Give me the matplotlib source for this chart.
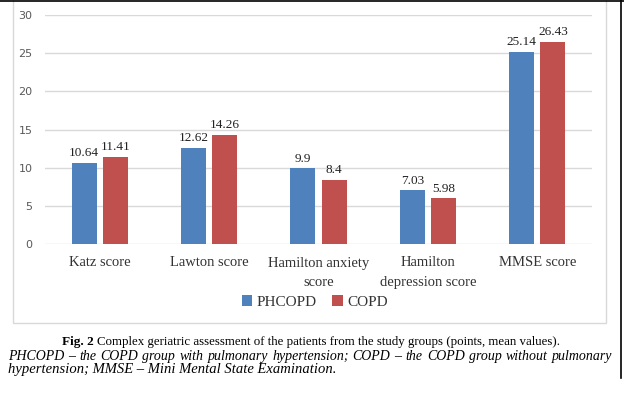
import numpy as np
import matplotlib.pyplot as plt
from matplotlib.patches import Rectangle
from matplotlib.lines import Line2D

categories = ['Katz score', 'Lawton score', 'Hamilton anxiety\nscore',
              'Hamilton\ndepression score', 'MMSE score']
phcopd = [10.64, 12.62, 9.9, 7.03, 25.14]
copd = [11.41, 14.26, 8.4, 5.98, 26.43]
series_names = ['PHCOPD', 'COPD']
yticks = [0, 5, 10, 15, 20, 25, 30]

BLUE = '#4F81BD'
RED = '#C0504D'
GRID = '#D9D9D9'
SERIF = 'Liberation Serif'

W, H = 624, 398
fig = plt.figure(figsize=(W / 100, H / 100), dpi=100)

def fx(px):
    return px / W

def fy(py):
    return 1 - py / H

# chart frame (light gray box) and black page edges
fig.patches.append(Rectangle((fx(13), fy(323)), fx(606) - fx(13), fy(-2) - fy(323),
                             transform=fig.transFigure, fill=False,
                             edgecolor=GRID, lw=1))
fig.lines.append(Line2D([0, 1], [fy(0.5), fy(0.5)], transform=fig.transFigure,
                        color='black', lw=1.2))
fig.lines.append(Line2D([fx(621), fx(621)], [fy(0), fy(378)], transform=fig.transFigure,
                        color='black', lw=1.2))

ax = fig.add_axes([fx(45), fy(244), fx(592) - fx(45), fy(15) - fy(244)])
x = np.arange(len(categories))
bw = 0.23
gap = 0.055
b1 = ax.bar(x - (bw + gap) / 2, phcopd, bw, color=BLUE, label=series_names[0])
b2 = ax.bar(x + (bw + gap) / 2, copd, bw, color=RED, label=series_names[1])

for bars, vals in ((b1, phcopd), (b2, copd)):
    for b, v in zip(bars, vals):
        ax.text(b.get_x() + b.get_width() / 2, v + 0.5, f'{v:g}',
                ha='center', va='bottom', fontsize=9.5, family=SERIF, color='#222222')

ax.set_ylim(0, 30)
ax.set_xlim(-0.5, len(categories) - 0.5)
ax.set_yticks(yticks)
ax.yaxis.grid(True, color=GRID, lw=1)
ax.set_axisbelow(True)
for s in ax.spines.values():
    s.set_visible(False)
ax.tick_params(axis='both', length=0)
ax.tick_params(axis='y', labelsize=8, labelcolor='#595959', pad=9)
ax.set_yticklabels([str(t) for t in yticks], family='DejaVu Sans')
ax.set_xticks(x)
ax.set_xticklabels(categories, family=SERIF, fontsize=10.5, color='#333333',
                   linespacing=1.65)
ax.tick_params(axis='x', pad=9)

leg = fig.legend(handles=[b1, b2], labels=series_names, loc='center',
                 bbox_to_anchor=(fx(315), fy(302)), ncol=2, frameon=False,
                 prop={'family': SERIF, 'size': 11}, handlelength=0.7,
                 handleheight=0.7, handletextpad=0.3, columnspacing=1.0)
for t in leg.get_texts():
    t.set_color('#333333')

fig.canvas.draw()
renderer = fig.canvas.get_renderer()

# caption
fig_lbl = fig.text(fx(62), fy(345), 'Fig. 2', fontweight='bold', family=SERIF,
                   fontsize=9.5, va='baseline', ha='left')
lw_ = fig_lbl.get_window_extent(renderer).width
fig.text(fx(62 + lw_ + 3), fy(345),
         'Complex geriatric assessment of the patients from the study groups (points, mean values).',
         family=SERIF, fontsize=9.3, va='baseline', ha='left')

# justified italic footnote line
line1 = 'PHCOPD – the COPD group with pulmonary hypertension; COPD – the COPD group without pulmonary'.split()
words = [fig.text(0, fy(360), w, family=SERIF, style='italic', fontsize=10,
                  va='baseline', ha='left') for w in line1]
widths = [t.get_window_extent(renderer).width for t in words]
left, right = 8, 612
space = (right - left - sum(widths)) / (len(words) - 1)
pos = left
for t, wd in zip(words, widths):
    t.set_x(fx(pos))
    pos += wd + space

fig.text(fx(8), fy(373), 'hypertension; MMSE – Mini Mental State Examination.',
         family=SERIF, style='italic', fontsize=10.5, va='baseline', ha='left')

fig.savefig('out.png', dpi=100)
